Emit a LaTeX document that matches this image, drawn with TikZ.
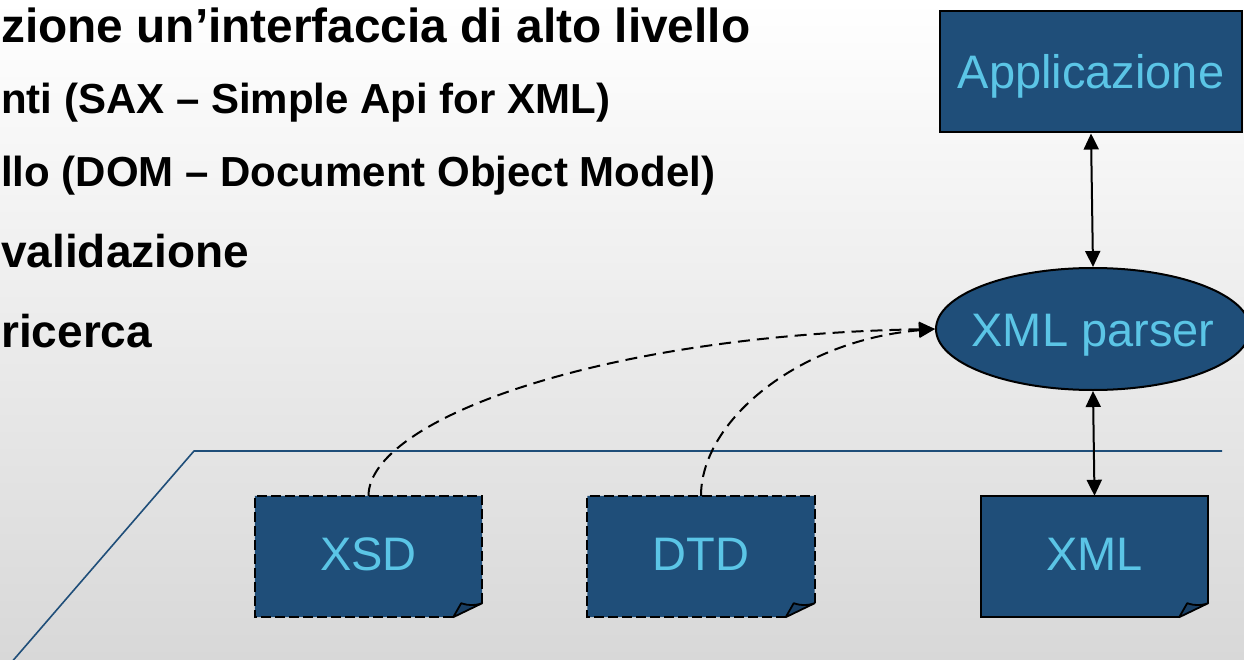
\documentclass[tikz,border=0pt]{standalone}
\usepackage{fontspec}
\setmainfont{Liberation Sans}
\usetikzlibrary{arrows.meta,shapes.geometric,backgrounds}

\definecolor{boxblue}{HTML}{1F4E79}
\definecolor{flapblue}{HTML}{193F64}
\definecolor{labelblue}{HTML}{5BC5E6}
\definecolor{bgtop}{HTML}{FFFFFF}
\definecolor{bgbot}{HTML}{D8D8D8}

\tikzset{
  labelfont/.style={font=\fontsize{47}{56}\selectfont, text=labelblue},
  appbox/.style={labelfont, draw=black, line width=2pt, fill=boxblue,
    minimum width=302pt, minimum height=121pt, inner sep=0pt,
    text height=34pt, text depth=0pt},
  parsernode/.style={labelfont, ellipse, draw=black, line width=2pt, fill=boxblue,
    minimum width=314pt, minimum height=122pt, inner xsep=-12pt, inner ysep=0pt,
    text height=34pt, text depth=0pt},
  docnode/.style={labelfont, minimum width=227pt, minimum height=121pt,
    inner sep=0pt, text height=34pt, text depth=7pt},
  docline/.style={draw=black, line width=2.2pt},
  docdash/.style={dash pattern=on 10pt off 4pt},
  flap/.style={fill=flapblue, draw=black, line width=1.8pt, line join=round},
  bigbold/.style={font=\bfseries\fontsize{47.8}{56}\selectfont, inner sep=0pt, anchor=base west},
  midbold/.style={font=\bfseries\fontsize{42}{50}\selectfont, inner sep=0pt, anchor=base west},
  sidebold/.style={font=\bfseries\fontsize{46}{56}\selectfont, inner sep=0pt, anchor=base west},
  dbllink/.style={line width=2pt, {Triangle[width=15pt,length=16pt]}-{Triangle[width=15pt,length=16pt]}},
  dashlink/.style={line width=2pt, dash pattern=on 12pt off 7pt, -{Triangle[width=15pt,length=16pt]}},
  rule/.style={draw=boxblue, line width=1.6pt},
}

% document shape with a folded bottom-right corner, drawn behind node #1
\newcommand\docfold[2]{%
  \begin{pgfonlayer}{background}
    \fill[boxblue] (#1.north west) -- (#1.north east) -- ([yshift=14pt]#1.south east)
      -- ([xshift=-29pt]#1.south east) -- (#1.south west) -- cycle;
    \draw[docline,#2] ([xshift=-29pt]#1.south east) -- (#1.south west) -- (#1.north west)
      -- (#1.north east) -- ([yshift=14pt]#1.south east);
    \filldraw[flap] ([xshift=-29pt]#1.south east) -- ([xshift=-21pt,yshift=14pt]#1.south east)
      to[bend right=18] ([yshift=14pt]#1.south east) -- cycle;
  \end{pgfonlayer}%
}

\begin{document}
\begin{tikzpicture}[x=1pt, y=-1pt]
  \useasboundingbox (0,0) rectangle (1244,660);
  \begin{pgfonlayer}{background}
    \shade[top color=bgtop, bottom color=bgbot] (0,0) rectangle (1244,660);
  \end{pgfonlayer}
  \clip (0,0) rectangle (1244,660);

  % bullet text
  \node[bigbold] (t1) at (1,43) {zione un’interfaccia di alto livello};
  \node[midbold] (t2) at (1,114) {nti (SAX – Simple Api for XML)};
  \node[midbold] (t3) at (1,187) {llo (DOM – Document Object Model)};
  \node[sidebold] (t4) at (1,267) {validazione};
  \node[sidebold] (t5) at (1,347) {ricerca};

  % layer boundary
  \coordinate (r0) at (10,664);
  \coordinate (r1) at (194,451);
  \coordinate (r2) at (1222,451);
  \draw[rule, line join=round] (r0) -- (r1) -- (r2);

  % components
  \node[appbox] (app) at (1091,72) {Applicazione};
  \node[parsernode] (parser) at (1093,329) {XML parser};
  \node[docnode] (xsd) at (368.5,556.5) {XSD};
  \node[docnode] (dtd) at (701,556.5) {DTD};
  \node[docnode] (xml) at (1094.5,556.5) {XML};

  \docfold{xsd}{docdash}
  \docfold{dtd}{docdash}
  \docfold{xml}{}

  % connectors
  \draw[dbllink] (app.south) -- (parser.north);
  \draw[dbllink] (parser.south) -- (xml.north);
  \draw[dashlink] (xsd.north) .. controls (369,420) and (600,335) .. (parser.west);
  \draw[dashlink] (dtd.north) .. controls (701,420) and (800,340) .. (parser.west);
\end{tikzpicture}
\end{document}
